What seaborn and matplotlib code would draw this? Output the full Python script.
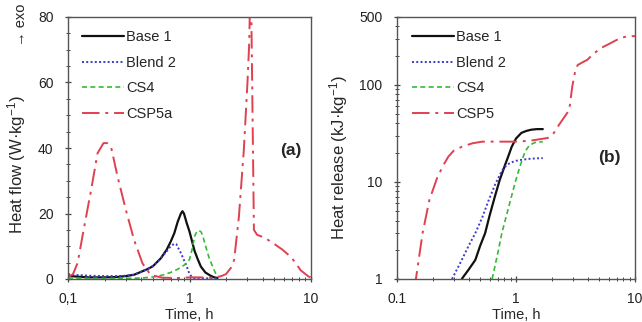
import numpy as np
import pandas as pd
import matplotlib
matplotlib.use("Agg")
import matplotlib.pyplot as plt
import matplotlib.ticker as mticker
import seaborn as sns

# ---------------- data: panel (a) heat flow ----------------
base1_t = [0.1, 0.12, 0.15, 0.2, 0.25, 0.3, 0.35, 0.4, 0.45, 0.5, 0.58, 0.65, 0.7, 0.75,
           0.8, 0.85, 0.875, 0.9, 0.95, 1.0, 1.05, 1.1, 1.17, 1.24, 1.35, 1.49, 1.6, 1.7]
base1_q = [1.0, 0.7, 0.5, 0.5, 0.6, 0.9, 1.3, 2.2, 3.0, 3.9, 6.3, 9.0, 11.4, 14.0,
           17.5, 20.0, 20.7, 20.0, 17.0, 14.5, 11.5, 8.6, 6.0, 3.8, 2.0, 1.0, 0.5, 0.3]

blend2_t = [0.1, 0.12, 0.15, 0.2, 0.25, 0.3, 0.35, 0.4, 0.45, 0.5, 0.58, 0.65, 0.7, 0.75,
            0.78, 0.82, 0.85, 0.9, 0.95, 1.0, 1.05, 1.1, 1.3, 1.5, 1.7]
blend2_q = [1.5, 1.2, 1.0, 0.9, 0.9, 1.0, 1.3, 2.2, 3.0, 4.0, 6.3, 8.5, 10.0, 10.8,
            10.6, 9.0, 7.9, 5.8, 3.8, 1.5, 0.6, 0.3, 0.2, 0.2, 0.2]

cs4_t = [0.1, 0.2, 0.3, 0.4, 0.5, 0.6, 0.7, 0.8, 0.9, 0.95, 1.0, 1.05, 1.1, 1.15, 1.2,
         1.25, 1.3, 1.36, 1.45, 1.55, 1.65, 1.75]
cs4_q = [0.3, 0.2, 0.2, 0.3, 0.6, 1.2, 2.0, 3.0, 4.2, 4.8, 6.0, 9.0, 13.0, 14.5, 14.8,
         14.3, 12.5, 9.9, 6.5, 3.8, 1.5, 0.5]

csp5a_t = [0.1, 0.11, 0.12, 0.136, 0.155, 0.175, 0.196, 0.21, 0.226, 0.256, 0.3, 0.35,
           0.41, 0.48, 0.6, 0.8, 1.0, 1.2, 1.5, 1.8, 2.0, 2.2, 2.33, 2.55, 2.8, 3.0,
           3.1, 3.19, 3.23, 3.39, 3.6, 4.2, 4.9, 5.8, 6.8, 7.5, 8.2, 9.0, 9.6, 10.0]
csp5a_q = [0.5, 1.5, 4.9, 16.0, 27.2, 38.4, 41.5, 41.5, 40.4, 31.2, 21.0, 11.9,
           4.8, 1.2, 0.4, 0.3, 0.5, 0.5, 0.4, 0.8, 1.5, 3.5, 5.8, 19.0, 39.4, 60.0,
           72.0, 95.0, 80.0, 15.0, 13.5, 12.5, 10.9, 9.0, 6.8, 4.8, 2.7, 1.5, 0.7, 0.5]

# ---------------- data: panel (b) heat release ----------------
base1_tr = [0.35, 0.4, 0.455, 0.5, 0.55, 0.6, 0.665, 0.73, 0.81, 0.87, 0.92, 1.0, 1.11,
            1.22, 1.34, 1.5, 1.68]
base1_h = [1.0, 1.25, 1.57, 2.2, 2.96, 4.5, 7.1, 10.5, 15.0, 19.0, 23.0, 28.0, 32.0,
           33.5, 34.5, 35.0, 35.0]

blend2_tr = [0.29, 0.35, 0.4, 0.455, 0.52, 0.59, 0.67, 0.76, 0.83, 0.9, 1.0, 1.11, 1.3,
             1.5, 1.68]
blend2_h = [1.0, 1.57, 2.2, 2.96, 4.3, 6.5, 9.5, 13.0, 14.8, 15.8, 16.5, 16.9, 17.3,
            17.5, 17.6]

cs4_tr = [0.63, 0.7, 0.76, 0.85, 0.98, 1.08, 1.19, 1.3, 1.45, 1.68]
cs4_h = [1.0, 1.8, 2.96, 5.0, 9.7, 14.5, 20.5, 24.0, 25.5, 26.0]

csp5_tr = [0.14, 0.145, 0.164, 0.187, 0.219, 0.25, 0.27, 0.3, 0.35, 0.43, 0.52, 0.7,
           0.97, 1.3, 1.85, 2.05, 2.24, 2.5, 2.8, 2.97, 3.15, 3.3, 3.6, 3.97, 4.5, 5.2,
           6.2, 7.5, 8.5, 10.0]
csp5_h = [0.8, 1.05, 2.96, 6.5, 11.3, 15.5, 18.2, 21.0, 23.0, 25.0, 26.0, 26.0,
          26.0, 26.5, 28.4, 31.0, 37.0, 45.0, 55.0, 96.0, 140.0, 160.0, 170.0, 181.0,
          210.0, 240.0, 268.0, 303.0, 315.0, 318.0]

labels_a = ["Base 1", "Blend 2", "CS4", "CSP5a"]
labels_b = ["Base 1", "Blend 2", "CS4", "CSP5"]
xtick_vals = [0.1, 1, 10]
xtick_labels_a = ["0,1", "1", "10"]
xtick_labels_b = ["0.1", "1", "10"]
ytick_vals_a = [0, 20, 40, 60, 80]
ytick_vals_b = [1, 10, 100, 500]

# ---------------- styling ----------------
sns.set_style("ticks")
plt.rcParams["font.family"] = ["Liberation Sans", "DejaVu Sans"]
plt.rcParams["mathtext.fontset"] = "custom"
plt.rcParams["mathtext.rm"] = "Liberation Sans"
plt.rcParams["mathtext.it"] = "Liberation Sans:italic"

colors = ["#111111", "#3a3acc", "#33bb33", "#e0404f"]
styles = ["-", (0, (1, 1.2)), (0, (3, 2)), (0, (9, 3, 1.5, 3))]
widths = [1.6, 1.4, 1.2, 1.4]

fig = plt.figure(figsize=(6.42, 3.22), dpi=100)
ax1 = fig.add_axes([68 / 642, 43 / 322, 243 / 642, 262 / 322])
ax2 = fig.add_axes([397 / 642, 43 / 322, 238 / 642, 262 / 322])

series_a = [(base1_t, base1_q), (blend2_t, blend2_q), (cs4_t, cs4_q), (csp5a_t, csp5a_q)]
series_b = [(base1_tr, base1_h), (blend2_tr, blend2_h), (cs4_tr, cs4_h), (csp5_tr, csp5_h)]

for ax, series, labels in [(ax1, series_a, labels_a), (ax2, series_b, labels_b)]:
    for (t, v), lab, c, ls, lw in zip(series, labels, colors, styles, widths):
        df = pd.DataFrame({"t": t, "v": v})
        sns.lineplot(data=df, x="t", y="v", ax=ax, color=c, linestyle=ls,
                     linewidth=lw, label=lab, sort=False, estimator=None)

# axes (a)
ax1.set_xscale("log")
ax1.set_xlim(0.1, 10)
ax1.set_ylim(0, 80)
ax1.set_yticks(ytick_vals_a)
ax1.yaxis.set_minor_locator(mticker.MultipleLocator(5))
ax1.xaxis.set_major_locator(mticker.FixedLocator(xtick_vals))
ax1.xaxis.set_major_formatter(mticker.FixedFormatter(xtick_labels_a))
ax1.xaxis.set_minor_locator(mticker.LogLocator(base=10, subs=np.arange(2, 10)))
ax1.xaxis.set_minor_formatter(mticker.NullFormatter())
ax1.set_xlabel("Time, h", fontsize=10.5, labelpad=1)
ax1.set_ylabel("Heat flow (W·kg$^{-1}$)", fontsize=12)
ax1.yaxis.set_label_coords((28 - 68) / 243, (279 - 165) / 262)
fig.text(21 / 642, 1 - 25 / 322, "→ exo", rotation=90, fontsize=10.5,
         ha="center", va="center")
fig.text(291 / 642, 1 - 150 / 322, "(a)", fontsize=12.5, fontweight="bold",
         ha="center", va="center")

# axes (b)
ax2.set_xscale("log")
ax2.set_yscale("log")
ax2.set_xlim(0.1, 10)
ax2.set_ylim(1, 500)
ax2.yaxis.set_major_locator(mticker.FixedLocator(ytick_vals_b))
ax2.yaxis.set_major_formatter(mticker.FixedFormatter([str(v) for v in ytick_vals_b]))
ax2.yaxis.set_minor_locator(mticker.LogLocator(base=10, subs=np.arange(2, 10)))
ax2.yaxis.set_minor_formatter(mticker.NullFormatter())
ax2.xaxis.set_major_locator(mticker.FixedLocator(xtick_vals))
ax2.xaxis.set_major_formatter(mticker.FixedFormatter(xtick_labels_b))
ax2.xaxis.set_minor_locator(mticker.LogLocator(base=10, subs=np.arange(2, 10)))
ax2.xaxis.set_minor_formatter(mticker.NullFormatter())
ax2.set_xlabel("Time, h", fontsize=10.5, labelpad=1)
ax2.set_ylabel("Heat release (kJ·kg$^{-1}$)", fontsize=12)
ax2.yaxis.set_label_coords((350 - 397) / 238, (279 - 158) / 262)
fig.text(609 / 642, 1 - 158 / 322, "(b)", fontsize=12.5, fontweight="bold",
         ha="center", va="center")

for ax in (ax1, ax2):
    for s in ax.spines.values():
        s.set_visible(True)
        s.set_color("#555555")
        s.set_linewidth(1.0)
    ax.tick_params(which="major", direction="inout", length=5, width=0.9,
                   colors="#444444", labelcolor="#222222", labelsize=10)
    ax.tick_params(which="minor", direction="inout", length=3, width=0.7,
                   colors="#444444")
    ax.tick_params(axis="x", which="major", pad=7)
    ax.tick_params(axis="y", which="major", pad=8)

for ax, x0 in [(ax1, 82), (ax2, 412)]:
    ax.legend(loc="upper left", frameon=False, fontsize=10.5,
              bbox_to_anchor=(x0 / 642, 1 - 30 / 322),
              bbox_transform=fig.transFigure, borderaxespad=0, borderpad=0,
              handlelength=2.9, handletextpad=0.15, labelspacing=0.8)

fig.savefig("out.png", dpi=100)
